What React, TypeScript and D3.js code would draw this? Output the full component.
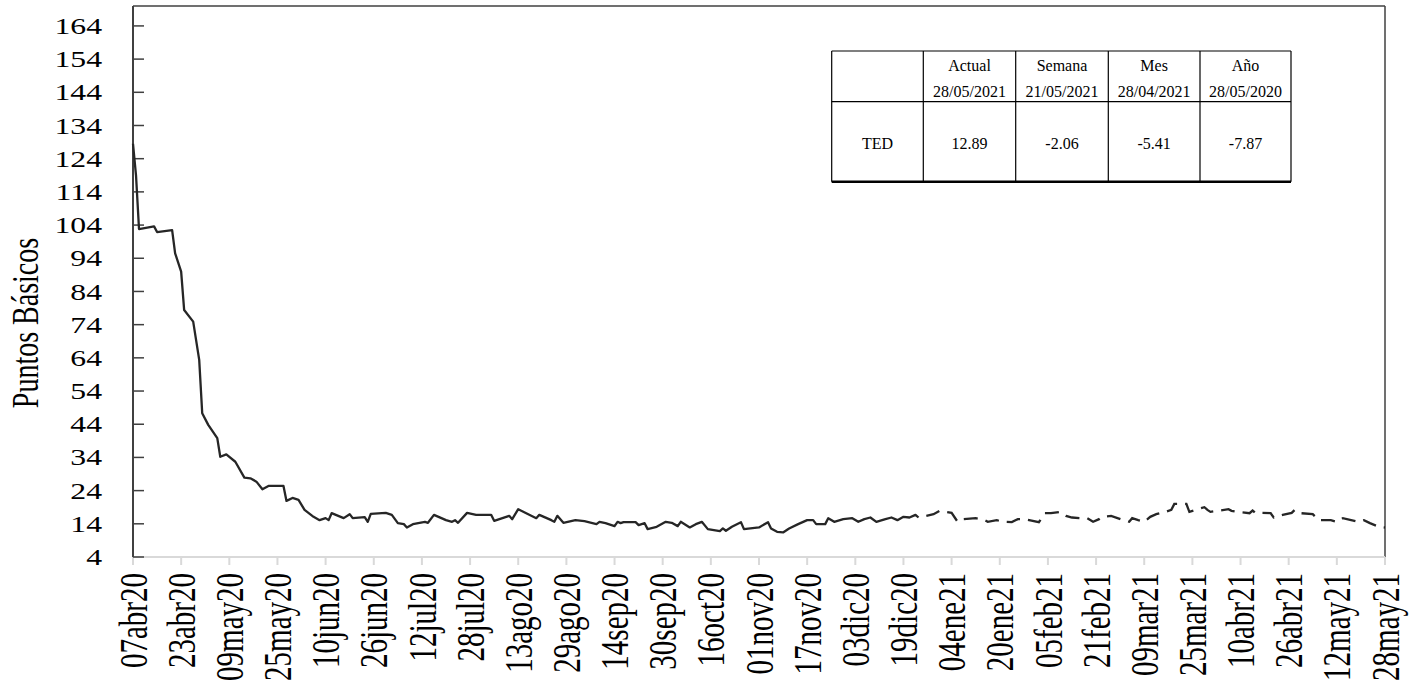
import React from "react";
import * as d3 from "d3";

// ---------- DATA ----------
const dates: string[] = [
  "2020-04-07","2020-04-08","2020-04-09","2020-04-14","2020-04-15","2020-04-20","2020-04-21","2020-04-23","2020-04-24","2020-04-27",
  "2020-04-29","2020-04-30","2020-05-02","2020-05-05","2020-05-06","2020-05-08","2020-05-11","2020-05-14","2020-05-16","2020-05-18",
  "2020-05-20","2020-05-22","2020-05-27","2020-05-28","2020-05-30","2020-06-01","2020-06-03","2020-06-06","2020-06-08","2020-06-10",
  "2020-06-11","2020-06-12","2020-06-16","2020-06-18","2020-06-19","2020-06-23","2020-06-24","2020-06-25","2020-06-30","2020-07-02",
  "2020-07-04","2020-07-06","2020-07-07","2020-07-09","2020-07-13","2020-07-14","2020-07-16","2020-07-20","2020-07-22","2020-07-23",
  "2020-07-24","2020-07-27","2020-07-30","2020-08-04","2020-08-05","2020-08-08","2020-08-10","2020-08-11","2020-08-13","2020-08-19",
  "2020-08-20","2020-08-24","2020-08-25","2020-08-26","2020-08-28","2020-09-01","2020-09-04","2020-09-08","2020-09-09","2020-09-11",
  "2020-09-14","2020-09-15","2020-09-16","2020-09-17","2020-09-21","2020-09-22","2020-09-24","2020-09-25","2020-09-28","2020-10-01",
  "2020-10-03","2020-10-05","2020-10-06","2020-10-09","2020-10-11","2020-10-13","2020-10-15","2020-10-17","2020-10-19","2020-10-20",
  "2020-10-21","2020-10-23","2020-10-26","2020-10-27","2020-11-01","2020-11-04","2020-11-05","2020-11-07","2020-11-09","2020-11-11",
  "2020-11-14","2020-11-17","2020-11-19","2020-11-20","2020-11-23","2020-11-24","2020-11-26","2020-11-29","2020-12-02","2020-12-04",
  "2020-12-06","2020-12-08","2020-12-10","2020-12-13","2020-12-15","2020-12-17","2020-12-19","2020-12-21","2020-12-23","2020-12-24",
  "2020-12-29","2020-12-31","2021-01-04","2021-01-06","2021-01-08","2021-01-12","2021-01-15","2021-01-16","2021-01-19","2021-01-21",
  "2021-01-24","2021-01-26","2021-01-28","2021-02-02","2021-02-04","2021-02-06","2021-02-09","2021-02-11","2021-02-13","2021-02-16",
  "2021-02-18","2021-02-20","2021-02-22","2021-02-23","2021-02-26","2021-03-02","2021-03-04","2021-03-05","2021-03-07","2021-03-09",
  "2021-03-11","2021-03-13","2021-03-16","2021-03-18","2021-03-19","2021-03-23","2021-03-24","2021-03-26","2021-03-29","2021-03-30",
  "2021-03-31","2021-04-06","2021-04-07","2021-04-09","2021-04-13","2021-04-14","2021-04-15","2021-04-16","2021-04-20","2021-04-21",
  "2021-04-24","2021-04-27","2021-04-28","2021-04-30","2021-05-04","2021-05-06","2021-05-07","2021-05-10","2021-05-12","2021-05-14",
  "2021-05-19","2021-05-21","2021-05-23","2021-05-26","2021-05-28",
];

const tedValues: number[] = [
  128.5,119.0,102.8,103.6,101.9,102.5,95.5,90.0,78.4,74.9,
  63.4,47.3,43.8,39.8,34.2,34.9,32.7,27.9,27.7,26.7,
  24.4,25.4,25.4,20.9,21.8,21.2,18.2,16.1,15.1,15.7,
  15.1,17.2,15.7,16.9,15.7,16.0,14.6,17.0,17.3,16.7,
  14.2,13.9,12.9,13.9,14.6,14.3,16.7,15.1,14.6,15.1,
  14.3,17.3,16.7,16.7,14.9,15.8,16.4,15.4,18.4,15.7,
  16.7,15.1,14.6,16.4,14.3,15.1,14.8,13.9,14.6,14.2,
  13.3,14.6,14.2,14.5,14.5,13.6,14.2,12.4,13.1,14.6,
  14.3,13.3,14.6,12.9,13.9,14.6,12.4,12.1,11.8,12.6,
  11.9,13.1,14.5,12.4,12.9,14.5,12.6,11.6,11.4,12.6,
  13.9,15.1,15.1,13.9,13.9,15.7,14.6,15.4,15.7,14.6,
  15.4,15.9,14.6,15.4,15.9,15.1,16.1,15.9,16.7,15.9,
  16.9,17.9,17.3,14.6,15.4,15.7,15.1,14.6,15.1,14.6,
  14.5,15.4,15.4,14.5,17.2,17.2,17.6,16.4,15.9,15.7,
  15.7,14.6,15.4,16.1,16.4,15.1,14.6,15.7,15.1,14.6,
  16.1,16.9,17.6,18.2,20.0,20.0,17.6,18.2,19.0,18.2,
  17.6,18.4,17.9,17.6,17.2,18.0,17.2,17.3,17.2,15.9,
  16.7,17.3,18.2,17.2,16.9,15.1,15.1,15.1,14.6,15.7,
  14.6,15.1,14.2,13.1,12.89,
];

const solidUntil = "2020-12-24";

const yTickValues: number[] = [4, 14, 24, 34, 44, 54, 64, 74, 84, 94, 104, 114, 124, 134, 144, 154, 164];

const xTickLabels: string[] = [
  "07abr20","23abr20","09may20","25may20","10jun20","26jun20","12jul20","28jul20","13ago20",
  "29ago20","14sep20","30sep20","16oct20","01nov20","17nov20","03dic20","19dic20","04ene21",
  "20ene21","05feb21","21feb21","09mar21","25mar21","10abr21","26abr21","12may21","28may21",
];

const yAxisTitle = "Puntos Básicos";

const tableHeaders: string[] = ["Actual", "Semana", "Mes", "Año"];
const tableDates: string[] = ["28/05/2021", "21/05/2021", "28/04/2021", "28/05/2020"];
const tableRowLabel = "TED";
const tableValues: string[] = ["12.89", "-2.06", "-5.41", "-7.87"];

// ---------- HELPERS ----------
const monthIdx: Record<string, number> = {
  ene: 0, feb: 1, mar: 2, abr: 3, may: 4, jun: 5, jul: 6, ago: 7, sep: 8, oct: 9, nov: 10, dic: 11,
};
const parseLabel = (s: string) =>
  new Date(2000 + +s.slice(-2), monthIdx[s.slice(2, -2)], +s.slice(0, 2));
const parseIso = d3.timeParse("%Y-%m-%d");

const W = 1421;
const H = 686;
const left = 133;
const right = 1385;
const top = 6;
const bottom = 557;
const FONT = "Liberation Serif, Times New Roman, serif";
const SX = 1.38;

export default function App() {
  const tickDates = xTickLabels.map(parseLabel);
  const x = d3.scaleTime().domain([tickDates[0], tickDates[tickDates.length - 1]]).range([left, right]);
  const y = d3.scaleLinear().domain([4, 170]).range([bottom, top]);

  const pts = dates.map((d, i) => ({ date: parseIso(d)!, v: tedValues[i] }));
  const cut = parseIso(solidUntil)!;
  const solidPts = pts.filter((p) => p.date <= cut);
  const dashPts = pts.filter((p) => p.date >= cut);
  const line = d3.line<{ date: Date; v: number }>().x((p) => x(p.date)).y((p) => y(p.v));

  // table geometry
  const colX = [831.7, 923.3, 1015.7, 1108.3, 1200, 1291];
  const tTop = 51, tMid = 101.7, tBot = 181.7;

  const xF = 29;
  const xSX = 1.38;

  return (
    <svg
      width={W}
      height={H}
      style={{ position: "absolute", left: 0, top: 0, background: "#fff", fontFamily: FONT }}
    >
      <rect x={0} y={0} width={W} height={H} fill="#fff" />
      {/* frame top & right */}
      <line x1={left} x2={right} y1={top} y2={top} stroke="#404040" strokeWidth={1.5} />
      <line x1={right} x2={right} y1={top} y2={bottom} stroke="#404040" strokeWidth={1.5} />

      {/* bottom axis */}
      <line x1={left} x2={right} y1={bottom} y2={bottom} stroke="#d9d9d9" strokeWidth={2} />
      {tickDates.map((d, i) => (
        <line key={"xt" + i} x1={x(d)} x2={x(d)} y1={bottom} y2={bottom + 8} stroke="#d9d9d9" strokeWidth={2} />
      ))}
      {tickDates.map((d, i) => (
        <text
          key={"xl" + i}
          transform={`translate(${x(d) + 0.34 * xF * xSX},573) scale(${xSX},1) rotate(-90)`}
          textAnchor="end"
          fontSize={xF}
          fontFamily={FONT}
          fill="#000"
        >
          {xTickLabels[i]}
        </text>
      ))}

      {/* left axis */}
      <line x1={left} x2={left} y1={top} y2={bottom} stroke="#404040" strokeWidth={2} />
      {yTickValues.map((v) => (
        <line key={"yt" + v} x1={left} x2={left + 11} y1={y(v)} y2={y(v)} stroke="#404040" strokeWidth={1.5} />
      ))}
      {yTickValues.map((v) => (
        <text
          key={"yl" + v}
          transform={`translate(102,${y(v)}) scale(${SX},1)`}
          dy="0.35em"
          textAnchor="end"
          fontSize={23}
          fontFamily={FONT}
          fill="#000"
        >
          {v}
        </text>
      ))}
      <text
        transform={`translate(37.5,323) scale(${SX},1) rotate(-90)`}
        textAnchor="middle"
        fontSize={28}
        fontFamily={FONT}
        fill="#000"
      >
        {yAxisTitle}
      </text>

      {/* series */}
      <path d={line(solidPts) || ""} fill="none" stroke="#262626" strokeWidth={2.3} strokeLinejoin="round" />
      <path
        d={line(dashPts) || ""}
        fill="none"
        stroke="#262626"
        strokeWidth={2.3}
        strokeDasharray="14,8"
        strokeDashoffset={14}
      />

      {/* table */}
      <g fontSize={16} fill="#000" fontFamily={FONT}>
        <rect x={colX[0]} y={tTop} width={colX[5] - colX[0]} height={tBot - tTop} fill="#fff" stroke="none" />
        <line x1={colX[0]} x2={colX[5]} y1={tTop} y2={tTop} stroke="#000" strokeWidth={1.2} />
        <line x1={colX[0]} x2={colX[5]} y1={tMid} y2={tMid} stroke="#000" strokeWidth={1.2} />
        <line x1={colX[0]} x2={colX[5]} y1={tBot} y2={tBot} stroke="#000" strokeWidth={2.5} />
        {colX.map((cx, i) => (
          <line key={"tc" + i} x1={cx} x2={cx} y1={tTop} y2={tBot} stroke="#000" strokeWidth={1.2} />
        ))}
        {tableHeaders.map((h, i) => (
          <text key={"th" + i} x={(colX[i + 1] + colX[i + 2]) / 2} y={71} textAnchor="middle">
            {h}
          </text>
        ))}
        {tableDates.map((h, i) => (
          <text key={"td" + i} x={(colX[i + 1] + colX[i + 2]) / 2} y={97} textAnchor="middle">
            {h}
          </text>
        ))}
        <text x={(colX[0] + colX[1]) / 2} y={149} textAnchor="middle">
          {tableRowLabel}
        </text>
        {tableValues.map((v, i) => (
          <text key={"tv" + i} x={(colX[i + 1] + colX[i + 2]) / 2} y={149} textAnchor="middle">
            {v}
          </text>
        ))}
      </g>
    </svg>
  );
}
